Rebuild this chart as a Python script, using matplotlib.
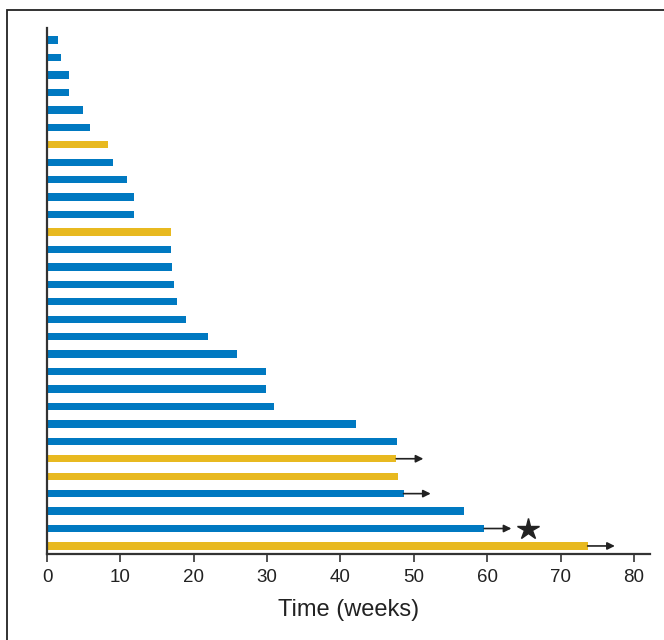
# Swimmer plot: time on treatment per patient (weeks)
import matplotlib.pyplot as plt
from matplotlib.patches import Rectangle

plt.rcParams['font.family'] = ['Liberation Sans', 'DejaVu Sans']

# patients listed top to bottom
weeks = [1.45, 1.9, 3.0, 3.0, 4.9, 5.8, 8.3, 9.0, 10.9, 11.9,
         11.9, 16.9, 16.9, 17.1, 17.3, 17.7, 18.9, 21.9, 25.9, 29.9,
         29.9, 30.9, 42.1, 47.7, 47.6, 47.9, 48.6, 56.8, 59.6, 73.7]
group = ['b', 'b', 'b', 'b', 'b', 'b', 'y', 'b', 'b', 'b',
         'b', 'y', 'b', 'b', 'b', 'b', 'b', 'b', 'b', 'b',
         'b', 'b', 'b', 'b', 'y', 'y', 'b', 'b', 'b', 'y']
ongoing = [25, 27, 29, 30]   # 1-based rows with an arrow
star_row = 29
star_x = 65.5
arrow_len = 3.7

colors = {'b': '#0079C1', 'y': '#E8B920'}

fig = plt.figure(figsize=(6.64, 6.40), dpi=100)
ax = fig.add_axes([0.0708, 0.1344, 0.9082, 0.8218])

n = len(weeks)
ys = [n - 1 - i for i in range(n)]
ax.barh(ys, weeks, height=0.42, color=[colors[g] for g in group], left=0)

for r in ongoing:
    y = n - r
    x0 = weeks[r - 1]
    ax.annotate('', xy=(x0 + arrow_len, y), xytext=(x0, y),
                arrowprops=dict(arrowstyle='-|>', color='#222222', lw=1.2,
                                mutation_scale=11, shrinkA=0, shrinkB=0))

ax.plot(star_x, n - star_row, marker='*', color='#222222', markersize=16)

ax.set_xlim(0, 82.2)
ax.set_ylim(-0.46, 29.69)
ax.set_xticks(range(0, 81, 10))
ax.set_yticks([])
ax.spines['top'].set_visible(False)
ax.spines['right'].set_visible(False)
ax.spines['left'].set_linewidth(1.6)
ax.spines['bottom'].set_linewidth(1.6)
ax.spines['left'].set_color('#333333')
ax.spines['bottom'].set_color('#333333')
ax.tick_params(axis='x', length=6, width=1.2, color='#333333',
               labelsize=13.5, labelcolor='#222222', pad=5)
ax.set_xlabel('Time (weeks)', fontsize=17, color='#222222', labelpad=9)

# outer frame of the figure
fig.patches.append(Rectangle((7 / 664, -0.1), 1.2, 1 - 10 / 640 + 0.1,
                             transform=fig.transFigure, fill=False,
                             edgecolor='#222222', linewidth=1.3))

plt.savefig('out.png', dpi=100)
